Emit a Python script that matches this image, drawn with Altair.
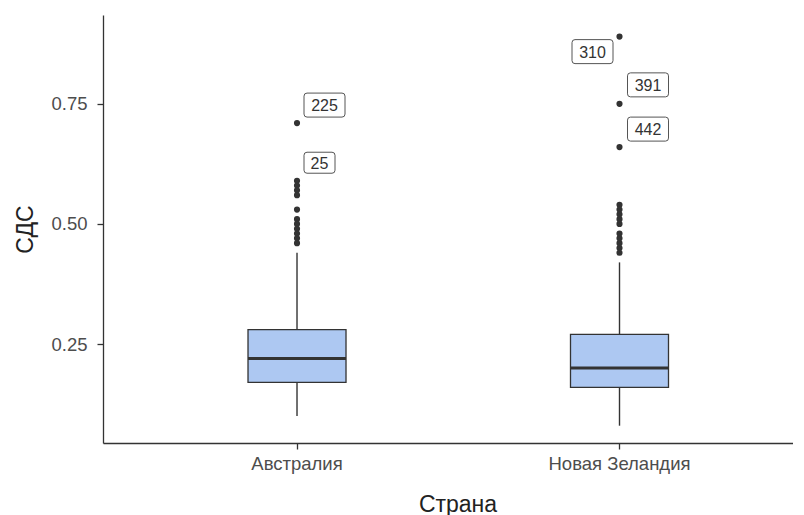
import altair as alt
import pandas as pd

# ---- data ----
countries = ["Австралия", "Новая Зеландия"]
q1 = [0.17, 0.16]
median = [0.22, 0.20]
q3 = [0.28, 0.27]
whisker_low = [0.10, 0.08]
whisker_high = [0.44, 0.42]

outliers_au = [0.71, 0.59, 0.58, 0.57, 0.56, 0.53, 0.51, 0.50, 0.49, 0.48, 0.47, 0.46]
outliers_nz = [0.89, 0.75, 0.66, 0.54, 0.53, 0.52, 0.51, 0.50, 0.48, 0.47, 0.46, 0.45, 0.44]

label_ids = ["225", "25", "310", "391", "442"]
label_country = ["Австралия", "Австралия", "Новая Зеландия", "Новая Зеландия", "Новая Зеландия"]
label_value = [0.71, 0.59, 0.89, 0.75, 0.66]

y_ticks = [0.25, 0.50, 0.75]

# ---- tables ----
box_df = pd.DataFrame({
    "country": countries, "q1": q1, "median": median, "q3": q3,
    "lo": whisker_low, "hi": whisker_high,
})
out_df = pd.DataFrame({
    "country": [countries[0]] * len(outliers_au) + [countries[1]] * len(outliers_nz),
    "value": outliers_au + outliers_nz,
})
lab_df = pd.DataFrame({"id": label_ids, "country": label_country, "value": label_value})

FONT = "Liberation Sans"
DARK = "#333333"

x_enc = alt.X(
    "country:N",
    sort=countries,
    title="Страна",
    scale=alt.Scale(paddingInner=0, paddingOuter=0.0698, align=0.7278),
    axis=alt.Axis(
        labelAngle=0, labelFontSize=18.5, labelColor="#4D4D4D", labelFont=FONT,
        labelPadding=5, tickSize=6, tickColor=DARK, domainColor=DARK,
        domainWidth=1.3, tickWidth=1.3,
        titleFontSize=23, titleFont=FONT, titleColor="#222222", titleFontWeight="normal",
        titleX=354.5, titleY=68, titleAlign="center", titleBaseline="alphabetic",
    ),
)
y_scale = alt.Scale(domain=[0.044, 0.935], nice=False, zero=False)
y_axis = alt.Axis(
    values=y_ticks, format=".2f", grid=False,
    labelFontSize=18.5, labelColor="#4D4D4D", labelFont=FONT, labelPadding=10,
    tickSize=6, tickColor=DARK, domainColor=DARK, domainWidth=1.3, tickWidth=1.3,
    titleFontSize=23, titleFont=FONT, titleColor="#222222", titleFontWeight="normal",
    titleX=-66, titleY=214, titleAngle=-90, titleAlign="center", titleBaseline="bottom",
)

whiskers = alt.Chart(box_df).mark_rule(color=DARK, strokeWidth=1.4).encode(
    x=x_enc,
    y=alt.Y("lo:Q", scale=y_scale, axis=y_axis, title="СДС"),
    y2="hi:Q",
)
boxes = alt.Chart(box_df).mark_bar(
    size=98, color="#ADC8F2", stroke=DARK, strokeWidth=1.3
).encode(x=x_enc, y=alt.Y("q1:Q", scale=y_scale), y2="q3:Q")
medians = alt.Chart(box_df).mark_tick(
    size=98, thickness=3, color=DARK, opacity=1
).encode(x=x_enc, y=alt.Y("median:Q", scale=y_scale))
points = alt.Chart(out_df).mark_circle(size=38, color=DARK, opacity=1).encode(
    x=x_enc, y=alt.Y("value:Q", scale=y_scale)
)


def rounded_rect(half_w, half_h, r):
    h = half_h / half_w
    rr = r / half_w
    return (
        f"M{-1 + rr},{-h} H{1 - rr} Q1,{-h} 1,{-h + rr} V{h - rr} Q1,{h} {1 - rr},{h} "
        f"H{-1 + rr} Q-1,{h} -1,{h - rr} V{-h + rr} Q-1,{-h} {-1 + rr},{-h} Z"
    )


# label offsets (pixels) relative to their point
offsets = {"225": (27.5, -18), "25": (22.5, -18), "310": (-27, 15), "391": (28.5, -19), "442": (28.5, -18)}

label_layers = []
for lid in label_ids:
    dx, dy = offsets[lid]
    if len(lid) == 3:
        hw, hh = 20.5, 12
    else:
        hw, hh = 15.5, 10.5
    base = alt.Chart(lab_df).transform_filter(alt.datum.id == lid)
    box = base.mark_point(
        shape=rounded_rect(hw, hh, 3), size=(2 * hw) ** 2, filled=True,
        fill="white", stroke="#555555", strokeWidth=1, opacity=1,
        xOffset=dx, yOffset=dy,
    ).encode(x=x_enc, y=alt.Y("value:Q", scale=y_scale))
    txt = base.mark_text(
        font=FONT, fontSize=16, color=DARK, align="center", baseline="middle",
        xOffset=dx, yOffset=dy + 1,
    ).encode(x=x_enc, y=alt.Y("value:Q", scale=y_scale), text="id:N")
    label_layers += [box, txt]

chart = alt.layer(whiskers, boxes, medians, points, *label_layers).properties(
    width=690,
    height=428,
    autosize=alt.AutoSizeParams(type="none"),
    padding={"left": 95, "top": 7, "right": 0, "bottom": 73},
    background="white",
).configure_view(stroke=None)

chart.save("out.html", embed_options={"renderer": "svg", "actions": False})
